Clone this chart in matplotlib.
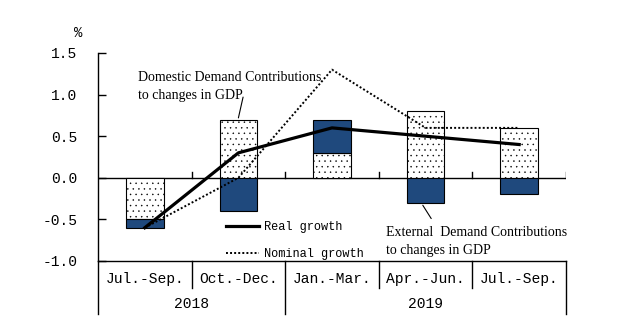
import numpy as np
import matplotlib
matplotlib.use('Agg')
import matplotlib.pyplot as plt

# contributions to real GDP growth (q/q, %)
quarters = ['Jul.-Sep.', 'Oct.-Dec.', 'Jan.-Mar.', 'Apr.-Jun.', 'Jul.-Sep.']
years = ['2018', '2019']
year_span = [(0, 2), (2, 5)]
domestic = np.array([-0.5, 0.7, 0.3, 0.8, 0.6])
external = np.array([-0.1, -0.4, 0.4, -0.3, -0.2])
real = np.array([-0.6, 0.3, 0.6, 0.5, 0.4])
nominal = np.array([-0.6, 0.0, 1.3, 0.6, 0.6])
yticks = [-1.0, -0.5, 0.0, 0.5, 1.0, 1.5]

blue = '#1F497D'
mono = 'Liberation Mono'
serif = 'Liberation Serif'
plt.rcParams['hatch.color'] = 'black'
plt.rcParams['hatch.linewidth'] = 0.3

fig = plt.figure(figsize=(6.3, 3.34), dpi=100)
ax = fig.add_axes([98/630, 1-261/334, 468/630, 208/334])

n = len(quarters)
xc = np.arange(n) + 0.5
w = 0.4
# external bar sits on top of the domestic one when both have the same sign
ext_bottom = np.where(np.sign(external) == np.sign(domestic), domestic, 0)

ax.bar(xc, domestic, w, color='white', edgecolor='black', linewidth=0.8, hatch='...', zorder=2)
ax.bar(xc, external, w, bottom=ext_bottom, color=blue, edgecolor='black', linewidth=0.8, zorder=2)

ax.plot(xc, real, color='black', lw=2.3, zorder=4, label='Real growth')
ax.plot(xc, nominal, color='black', lw=1.4, ls=(0, (1, 1.1)), zorder=3, label='Nominal growth')

ax.axhline(0, color='black', lw=1, zorder=1)
for b in range(1, n + 1):
    ax.plot([b, b], [0, 0.065], color='black', lw=1, zorder=1)

ax.set_xlim(0, n)
ax.set_ylim(-1.0, 1.5)
ax.set_yticks(yticks)
ax.set_yticklabels(['%.1f' % v for v in yticks], fontfamily=mono, fontsize=10.5)
ax.tick_params(axis='y', direction='in', length=6, width=1, pad=15)
ax.set_xticks([])
for s in ['top', 'right']:
    ax.spines[s].set_visible(False)
for s in ['left', 'bottom']:
    ax.spines[s].set_linewidth(1)
ax.text(-0.043, 1.096, '%', transform=ax.transAxes, fontfamily=mono, fontsize=10,
        ha='center', va='center', clip_on=False)

# category axis below the plot
trans = ax.get_xaxis_transform()
for i, q in enumerate(quarters):
    ax.text(xc[i], -0.087, q, transform=trans, ha='center', va='center',
            fontfamily=mono, fontsize=10.5)
for y, (a, b) in zip(years, year_span):
    ax.text((a + b) / 2, -0.207, y, transform=trans, ha='center', va='center',
            fontfamily=mono, fontsize=10.5)
edges = sorted(set([e for sp in year_span for e in sp]))
for b in range(0, n + 1):
    depth = -0.255 if b in edges else -0.13
    ax.plot([b, b], [0, depth], transform=trans, color='black', lw=1, clip_on=False)

# annotations
ax.text(0.43, 1.28, 'Domestic Demand Contributions\nto changes in GDP', fontfamily=serif,
        fontsize=10, va='top', ha='left', linespacing=1.45)
ax.annotate('', xy=(xc[1], domestic[1] + 0.02), xytext=(1.55, 0.97),
            arrowprops=dict(arrowstyle='-', color='black', lw=0.8, shrinkA=0, shrinkB=0))
ax.text(3.08, -0.58, 'External  Demand Contributions\nto changes in GDP', fontfamily=serif,
        fontsize=10, va='top', ha='left', linespacing=1.45)
ax.annotate('', xy=(xc[3] + 0.06, -0.49), xytext=(xc[3] - 0.03, external[3] - 0.03),
            arrowprops=dict(arrowstyle='-', color='black', lw=0.8, shrinkA=0, shrinkB=0))

leg = ax.legend(loc='upper left', bbox_to_anchor=(226/630, 1-221/334), bbox_transform=fig.transFigure,
                frameon=False, prop={'family': mono, 'size': 8.6}, handlelength=2.8,
                handletextpad=0.35, labelspacing=1.25, borderpad=0, borderaxespad=0)

fig.savefig('out.png', dpi=100)
